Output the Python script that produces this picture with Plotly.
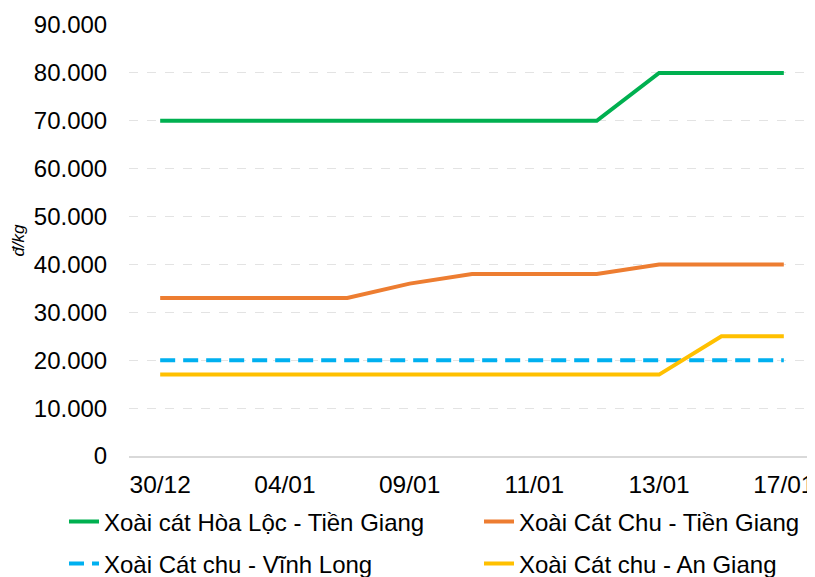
import plotly.graph_objects as go

dates = ["30/12", "02/01", "04/01", "06/01", "09/01", "10/01", "11/01", "12/01", "13/01", "16/01", "17/01"]
shown_ticks = ["30/12", "04/01", "09/01", "11/01", "13/01", "17/01"]

hoa_loc_tien_giang = [70000, 70000, 70000, 70000, 70000, 70000, 70000, 70000, 80000, 80000, 80000]
cat_chu_tien_giang = [33000, 33000, 33000, 33000, 36000, 38000, 38000, 38000, 40000, 40000, 40000]
cat_chu_vinh_long = [20000] * 11
cat_chu_an_giang = [17000, 17000, 17000, 17000, 17000, 17000, 17000, 17000, 17000, 25000, 25000]

series = [
    ("Xoài cát Hòa Lộc - Tiền Giang", hoa_loc_tien_giang, "#00B050", "solid", "legend"),
    ("Xoài Cát Chu - Tiền Giang", cat_chu_tien_giang, "#ED7D31", "solid", "legend2"),
    ("Xoài Cát chu - Vĩnh Long", cat_chu_vinh_long, "#00B0F0", "15px,8px", "legend3"),
    ("Xoài Cát chu - An Giang", cat_chu_an_giang, "#FFC000", "solid", "legend4"),
]

fig = go.Figure()
for name, vals, color, dash, leg in series:
    fig.add_trace(go.Scatter(x=dates, y=vals, name=name, mode="lines", legend=leg,
                             line=dict(color=color, width=4, dash=dash)))

font_family = "Liberation Sans, Arial, sans-serif"

# page body has an 8px margin; figure is shifted accordingly
W, H = 807, 569
L, T, B = 121, 17, 121
PW, PH = W - L, H - T - B


def px_x(page_x):
    return (page_x - 8 - L) / PW


def px_y(page_y):
    return (H - B - (page_y - 8)) / PH


def leg(page_x, page_y):
    return dict(orientation="h", xref="paper", yref="paper",
                x=px_x(page_x), y=px_y(page_y), xanchor="left", yanchor="middle",
                font=dict(size=24, family=font_family, color="#000000"),
                bgcolor="rgba(0,0,0,0)", borderwidth=0)


fig.update_layout(
    width=W, height=H,
    margin=dict(l=L, r=0, t=T, b=B, autoexpand=False),
    paper_bgcolor="white", plot_bgcolor="white",
    separators=",.",
    font=dict(family=font_family, size=24, color="#000000"),
    showlegend=True,
    legend=leg(64, 522),
    legend2=leg(479, 522),
    legend3=leg(64, 564),
    legend4=leg(479, 564),
    xaxis=dict(type="category", range=[-0.5, 10.5], tickmode="array",
               tickvals=shown_ticks, ticktext=shown_ticks, automargin=False,
               showgrid=False, showline=True, linecolor="#D9D9D9", linewidth=2,
               ticks="outside", ticklen=6, tickcolor="rgba(0,0,0,0)",
               tickfont=dict(size=24.5)),
    yaxis=dict(range=[0, 90000], dtick=10000, tickformat=",d", automargin=False,
               showgrid=True, gridcolor="#E3E3E3", griddash="dash", gridwidth=1,
               zeroline=False, showline=False,
               ticks="outside", ticklen=16, tickcolor="rgba(0,0,0,0)",
               tickfont=dict(size=24),
               title=dict(text="<i>đ/kg</i>", font=dict(size=17), standoff=4)),
)

fig.write_html("out.html")
